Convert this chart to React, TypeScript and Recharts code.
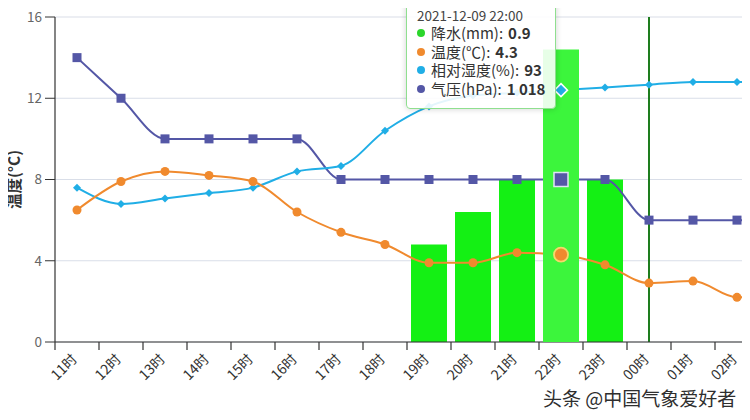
import React from 'react';
import { ComposedChart, Bar, Line, XAxis, YAxis, CartesianGrid, Tooltip, ReferenceLine } from 'recharts';

const hours = ['11时', '12时', '13时', '14时', '15时', '16时', '17时', '18时', '19时', '20时', '21时', '22时', '23时', '00时', '01时', '02时', '03时'];
const timeStamps = [
  '2021-12-09 11:00', '2021-12-09 12:00', '2021-12-09 13:00', '2021-12-09 14:00', '2021-12-09 15:00',
  '2021-12-09 16:00', '2021-12-09 17:00', '2021-12-09 18:00', '2021-12-09 19:00', '2021-12-09 20:00',
  '2021-12-09 21:00', '2021-12-09 22:00', '2021-12-09 23:00', '2021-12-10 00:00', '2021-12-10 01:00',
  '2021-12-10 02:00', '2021-12-10 03:00',
];
const precipitation: (number | null)[] = [null, null, null, null, null, null, null, null, 0.3, 0.4, 0.5, 0.9, 0.5, null, null, null, null];
const temperature = [6.5, 7.9, 8.4, 8.2, 7.9, 6.4, 5.4, 4.8, 3.9, 3.9, 4.4, 4.3, 3.8, 2.9, 3.0, 2.2, 2.4];
const humidity = [57, 51, 53, 55, 57, 63, 65, 78, 87, 91, 92, 93, 94, 95, 96, 96, 96];
const pressure = [1024, 1022, 1020, 1020, 1020, 1020, 1018, 1018, 1018, 1018, 1018, 1018, 1018, 1016, 1016, 1016, 1016];
const tempTicks = [0, 4, 8, 12, 16];
const markerHour = '00时';
const activeHourIndex = 11;

const VIEW_W = 750;
const VIEW_H = 420;

const data = hours.map((h, i) => ({
  hour: h,
  time: timeStamps[i],
  rain: precipitation[i],
  temp: temperature[i],
  hum: humidity[i],
  pres: pressure[i],
}));

const FONT = '"Noto Sans CJK SC", "Noto Sans", sans-serif';
const C_RAIN = '#14f014';
const C_TEMP = '#f08a2e';
const C_HUM = '#20aee6';
const C_PRES = '#5457a6';

const XTick = (props: any) => {
  const { x, y, payload } = props;
  const off = payload && typeof payload.offset === 'number' ? payload.offset : 0;
  const ax = x + 1;
  const ay = y + 18;
  return (
    <g>
      <line x1={x - off} x2={x - off} y1={y} y2={y + 8} stroke="#333" strokeWidth={1.2} />
      {ax <= VIEW_W ? (
        <text
          x={ax}
          y={ay}
          transform={`rotate(-45 ${ax} ${ay})`}
          textAnchor="end"
          fill="#333"
          fontSize={14}
          fontFamily={FONT}
        >
          {payload.value}
        </text>
      ) : null}
    </g>
  );
};

const TempDot = (p: any) => {
  if (p.cx == null || p.cy == null || p.value == null) return <g key={p.key} />;
  return <circle key={p.key} cx={p.cx} cy={p.cy} r={4.5} fill={C_TEMP} />;
};
const TempActive = (p: any) => <circle cx={p.cx} cy={p.cy} r={7} fill={C_TEMP} stroke="#f6d66c" strokeWidth={1.8} />;

const diamond = (cx: number, cy: number, s: number) => `${cx},${cy - s} ${cx + s},${cy} ${cx},${cy + s} ${cx - s},${cy}`;
const HumDot = (p: any) => {
  if (p.cx == null || p.cy == null) return <g key={p.key} />;
  return <polygon key={p.key} points={diamond(p.cx, p.cy, 4)} fill={C_HUM} />;
};
const HumActive = (p: any) => <polygon points={diamond(p.cx, p.cy, 6.5)} fill={C_HUM} stroke="#fff" strokeWidth={1.5} />;

const PresDot = (p: any) => {
  if (p.cx == null || p.cy == null) return <g key={p.key} />;
  return <rect key={p.key} x={p.cx - 4.5} y={p.cy - 4.5} width={9} height={9} fill={C_PRES} />;
};
const PresActive = (p: any) => <rect x={p.cx - 7} y={p.cy - 7} width={14} height={14} fill={C_PRES} stroke="#dfe3f3" strokeWidth={1.5} />;

const fmtThousands = (v: number) => String(v).replace(/\B(?=(\d{3})+(?!\d))/g, ' ');

const TipContent = (props: any) => {
  const { active, payload } = props;
  if (!active || !payload || !payload.length) return null;
  const row = payload[0].payload;
  const items = [
    { name: '降水(mm)', color: '#2bd62b', value: row.rain == null ? '-' : row.rain.toFixed(1) },
    { name: '温度(℃)', color: C_TEMP, value: row.temp.toFixed(1) },
    { name: '相对湿度(%)', color: C_HUM, value: String(row.hum) },
    { name: '气压(hPa)', color: C_PRES, value: fmtThousands(row.pres) },
  ];
  return (
    <div
      style={{
        background: 'rgba(255,255,255,0.88)',
        border: '1px solid #8fdf8f',
        borderRadius: 4,
        boxShadow: '0 0 6px rgba(0,0,0,0.18)',
        padding: '9px 8px 10px 10px',
        fontFamily: FONT,
        color: '#333',
        width: 130,
      }}
    >
      <div style={{ fontSize: 13.5, lineHeight: '18px', color: '#444' }}>{row.time}</div>
      {items.map((it) => (
        <div key={it.name} style={{ fontSize: 15, height: 18.5, lineHeight: '18.5px', display: 'flex', alignItems: 'center', whiteSpace: 'nowrap' }}>
          <span style={{ display: 'inline-block', width: 8, height: 8, borderRadius: 4, background: it.color, marginRight: 6 }} />
          <span>{it.name}: </span>
          <span style={{ fontWeight: 700, marginLeft: 5 }}>{it.value}</span>
        </div>
      ))}
    </div>
  );
};

export default function App() {
  return (
    <div style={{ position: 'relative', marginLeft: -8, marginTop: -8, width: VIEW_W, height: VIEW_H, overflow: 'hidden' }}>
      <ComposedChart
        width={808}
        height={VIEW_H}
        data={data}
        margin={{ top: 17, right: 5, bottom: 18, left: 0 }}
        style={{ fontFamily: FONT }}
      >
        <CartesianGrid vertical={false} stroke="#d9dee8" strokeWidth={1.2} yAxisId="temp" />
        <XAxis
          dataKey="hour"
          interval={0}
          tickLine={false}
          tickSize={0}
          tickMargin={0}
          height={60}
          tick={<XTick />}
          axisLine={{ stroke: '#333', strokeWidth: 1.2 }}
        />
        <YAxis
          yAxisId="temp"
          domain={[0, 16]}
          ticks={tempTicks}
          width={55}
          tickSize={10}
          tickMargin={3}
          tick={{ fill: '#666', fontSize: 13.5, fontFamily: FONT }}
          tickLine={{ stroke: '#333' }}
          axisLine={{ stroke: '#333', strokeWidth: 1.2 }}
          label={{
            value: '温度(°C)',
            angle: -90,
            position: 'insideLeft',
            offset: 9,
            dx: 5,
            style: { textAnchor: 'middle', fontWeight: 700, fontSize: 15.5, fill: '#333', fontFamily: FONT },
          }}
        />
        <YAxis yAxisId="rain" orientation="right" domain={[0, 1]} hide />
        <YAxis yAxisId="hum" orientation="right" domain={[0, 120]} hide />
        <YAxis yAxisId="pres" orientation="right" domain={[1010, 1026]} hide />
        <Tooltip
          defaultIndex={activeHourIndex}
          active
          content={<TipContent />}
          position={{ x: 406, y: -4 }}
          cursor={{ fill: 'rgba(160,180,230,0.12)', stroke: 'none' }}
          isAnimationActive={false}
        />
        <Bar
          yAxisId="rain"
          dataKey="rain"
          fill={C_RAIN}
          barSize={36}
          activeBar={{ fill: '#3cf53c' }}
          isAnimationActive={false}
        />
        <ReferenceLine yAxisId="temp" x={markerHour} stroke="#1e7d1e" strokeWidth={2} />
        <Line
          yAxisId="pres"
          type="monotone"
          dataKey="pres"
          stroke={C_PRES}
          strokeWidth={2}
          dot={<PresDot />}
          activeDot={<PresActive />}
          isAnimationActive={false}
        />
        <Line
          yAxisId="hum"
          type="monotone"
          dataKey="hum"
          stroke={C_HUM}
          strokeWidth={2}
          dot={<HumDot />}
          activeDot={<HumActive />}
          isAnimationActive={false}
        />
        <Line
          yAxisId="temp"
          type="monotone"
          dataKey="temp"
          stroke={C_TEMP}
          strokeWidth={2}
          dot={<TempDot />}
          activeDot={<TempActive />}
          isAnimationActive={false}
        />
      </ComposedChart>
      <div
        style={{
          position: 'absolute',
          left: 543,
          top: 388,
          fontFamily: FONT,
          fontSize: 19,
          lineHeight: 1,
          color: '#2e2e2e',
          whiteSpace: 'nowrap',
          textShadow: '0 0 2px #fff, 0 0 2px #fff',
        }}
      >
        头条 @中国气象爱好者
      </div>
    </div>
  );
}
